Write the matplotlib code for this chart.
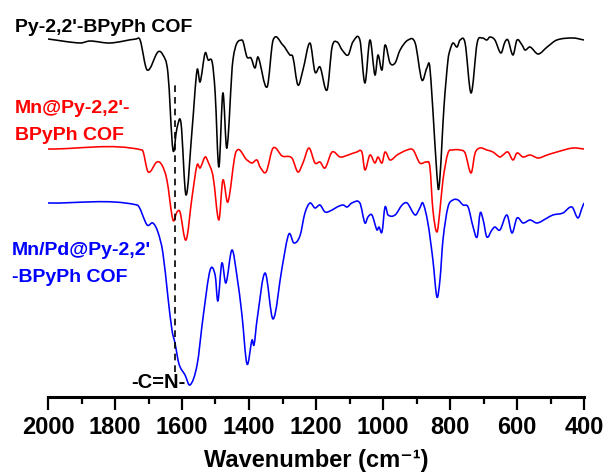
import matplotlib
matplotlib.use("Agg")
import matplotlib.pyplot as plt
from matplotlib.path import Path
from matplotlib.patches import PathPatch
from matplotlib.ticker import MultipleLocator

plt.rcParams["font.family"] = ["Liberation Sans", "DejaVu Sans"]

# FTIR traces (wavenumber, stacked intensity a.u.)
wn_cof = [2000, 1904, 1875, 1815, 1737, 1725, 1704, 1672, 1657, 1642, 1627, 1615,
          1603, 1588, 1570, 1555, 1546, 1531, 1522, 1510, 1501, 1490, 1478, 1466,
          1448, 1421, 1406, 1394, 1382, 1373, 1346, 1328, 1299, 1278, 1269, 1254,
          1239, 1218, 1203, 1188, 1167, 1152, 1137, 1122, 1104, 1090, 1069, 1054,
          1039, 1024, 1015, 1003, 994, 979, 964, 949, 925, 904, 884, 869, 860, 836,
          830, 818, 806, 800, 791, 779, 770, 755, 737, 719, 704, 690, 681, 666, 648,
          636, 627, 612, 600, 585, 576, 561, 537, 510, 481, 433, 400]
t_cof = [361, 357, 359, 357, 361, 360, 330, 348, 345, 327, 250, 272,
         277, 205, 270, 330, 318, 347, 340, 338, 307, 233, 307, 252,
         340, 360, 343, 342, 332, 343, 313, 360, 355, 345, 343, 315,
         330, 357, 328, 333, 310, 353, 358, 350, 345, 358, 360, 317,
         360, 325, 345, 330, 355, 337, 337, 350, 360, 357, 320, 332, 332, 213,
         223, 293, 340, 350, 357, 353, 360, 357, 307, 357, 362, 360, 363, 360, 347,
         358, 360, 345, 360, 355, 350, 353, 346, 353, 360, 362, 360]

wn_mn = [2000, 1719, 1701, 1675, 1660, 1645, 1627, 1615, 1606, 1588, 1570, 1555,
         1546, 1531, 1522, 1507, 1490, 1478, 1463, 1439, 1406, 1391, 1376, 1367,
         1349, 1328, 1301, 1272, 1254, 1239, 1221, 1203, 1188, 1173, 1152, 1128,
         1104, 1078, 1063, 1054, 1039, 1024, 1015, 1003, 994, 979, 958, 928, 910,
         890, 869, 860, 851, 839, 830, 821, 806, 791, 770, 755, 737, 725, 710, 690,
         672, 651, 642, 627, 612, 600, 582, 561, 537, 510, 481, 433, 400]
t_mn = [251, 250, 228, 238, 235, 220, 180, 188, 188, 160, 203, 235,
        232, 243, 238, 223, 180, 220, 198, 248, 240, 237, 240, 233,
        228, 252, 244, 242, 228, 237, 252, 237, 238, 232, 248, 243,
        245, 248, 248, 230, 245, 237, 243, 237, 248, 240, 245, 250, 250,
        237, 238, 233, 190, 168, 190, 220, 247, 250, 250, 247, 227, 247, 252, 250,
        248, 243, 245, 248, 240, 247, 243, 245, 242, 245, 248, 252, 251]

wn_mnpd = [2000, 1734, 1704, 1687, 1672, 1657, 1642, 1630, 1621, 1609, 1591, 1576,
           1555, 1537, 1516, 1501, 1493, 1481, 1469, 1451, 1436, 1421, 1406, 1391,
           1385, 1376, 1352, 1328, 1301, 1281, 1266, 1248, 1233, 1218, 1203, 1188,
           1173, 1152, 1137, 1119, 1107, 1093, 1069, 1054, 1045, 1033, 1018, 1012,
           1003, 994, 985, 964, 943, 928, 904, 890, 881, 866, 851, 839, 830, 821,
           806, 791, 776, 761, 746, 731, 719, 710, 701, 690, 675, 666, 651, 630,
           615, 600, 582, 561, 540, 510, 493, 463, 436, 418, 406, 400]
t_mnpd = [197, 195, 175, 177, 168, 147, 103, 70, 57, 36, 25, 15,
          35, 83, 130, 125, 99, 137, 117, 150, 124, 85, 36, 60,
          55, 80, 127, 81, 133, 166, 157, 164, 187, 197, 192, 195,
          188, 190, 193, 195, 193, 197, 197, 177, 183, 185, 170, 173,
          168, 193, 185, 185, 195, 197, 185, 192, 197, 177, 140, 103, 120, 160,
          193, 200, 200, 195, 193, 173, 163, 187, 180, 163, 170, 173, 170, 185,
          167, 182, 177, 180, 177, 182, 185, 187, 193, 182, 192, 197]

cn_band = 1621
x_ticks = [2000, 1800, 1600, 1400, 1200, 1000, 800, 600, 400]


def spectrum_path(xs, ys):
    """Smooth Bezier path through the read points (Hermite handles in x)."""
    n = len(xs)

    def slope(i):
        a, b = max(i - 1, 0), min(i + 1, n - 1)
        return (ys[b] - ys[a]) / (xs[b] - xs[a])

    verts, codes = [(xs[0], ys[0])], [Path.MOVETO]
    for i in range(n - 1):
        h = (xs[i + 1] - xs[i]) / 3
        verts += [(xs[i] + h, ys[i] + slope(i) * h),
                  (xs[i + 1] - h, ys[i + 1] - slope(i + 1) * h),
                  (xs[i + 1], ys[i + 1])]
        codes += [Path.CURVE4] * 3
    return Path(verts, codes)


fig = plt.figure(figsize=(6.09, 4.74), dpi=100)
ax = fig.add_axes([48 / 609, 77 / 474, 536 / 609, 397 / 474])

for wn, t, c in [(wn_cof, t_cof, "black"), (wn_mn, t_mn, "#ff0000"),
                 (wn_mnpd, t_mnpd, "#0000ff")]:
    ax.add_patch(PathPatch(spectrum_path(wn, t), fill=False, edgecolor=c,
                           lw=1.15, joinstyle="round"))

# -C=N- marker line
ax.plot([cn_band, cn_band], [28, 315], color="black", lw=1.2, ls=(0, (4, 3)))

ax.set_xlim(2000, 400)
ax.set_ylim(3, 400)
ax.set_xticks(x_ticks)
ax.set_xticklabels([str(v) for v in x_ticks], fontsize=17, fontweight="bold")
ax.xaxis.set_minor_locator(MultipleLocator(100))
ax.tick_params(axis="x", which="major", direction="out", length=9, width=1.6, pad=5)
ax.tick_params(axis="x", which="minor", direction="out", length=5, width=1.6)
ax.set_yticks([])
for s in ("left", "right", "top"):
    ax.spines[s].set_visible(False)
ax.spines["bottom"].set_linewidth(2.2)


def ftext(x, y, s, color="black", size=14, ha="left"):
    fig.text(x / 609, 1 - y / 474, s, color=color, fontsize=size,
             fontweight="bold", ha=ha, va="baseline")


ftext(15, 32, "Py-2,2'-BPyPh COF")
ftext(15, 113, "Mn@Py-2,2'-", "#ff0000")
ftext(15, 140, "BPyPh COF", "#ff0000")
ftext(12, 255, "Mn/Pd@Py-2,2'", "#0000ff")
ftext(12, 282, "-BPyPh COF", "#0000ff")
ftext(131, 388, "-C=N-", size=14.5)
ftext(316, 467, "Wavenumber (cm\u207b\u00b9)", size=17, ha="center")

fig.savefig("out.png", dpi=100)
